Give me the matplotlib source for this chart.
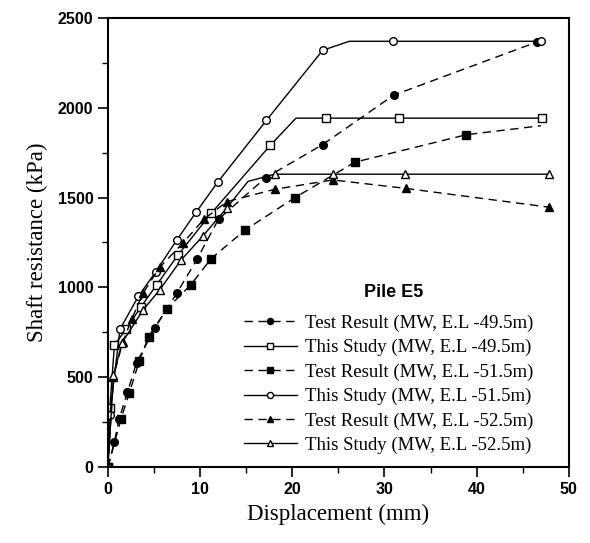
import matplotlib
matplotlib.use("Agg")
import matplotlib.pyplot as plt
from matplotlib.ticker import MultipleLocator

# Pile E5 - shaft resistance vs displacement
test_495_x = [0, 0.7, 1.2, 2.1, 3.1, 5.1, 7.5, 9.7, 12.0, 17.1, 23.3, 31.0, 46.5]
test_495_y = [0, 140, 265, 415, 580, 775, 970, 1160, 1380, 1610, 1795, 2070, 2365]

study_495_x = [0, 0.2, 0.7, 2.0, 3.6, 5.3, 7.6, 11.2, 17.6, 20.4, 23.7, 31.6, 47.1]
study_495_y = [0, 327, 679, 770, 893, 1015, 1180, 1412, 1790, 1942, 1942, 1942, 1942]

test_515_x = [0, 1.4, 2.3, 3.4, 4.4, 6.4, 9.0, 11.2, 14.9, 20.3, 26.8, 38.9, 47.0]
test_515_y = [0, 265, 410, 590, 726, 880, 1015, 1160, 1320, 1500, 1697, 1850, 1900]

study_515_x = [0, 0.2, 1.3, 3.3, 5.2, 7.5, 9.6, 11.9, 17.2, 23.3, 26.2, 30.9, 47.0]
study_515_y = [0, 290, 767, 950, 1088, 1266, 1421, 1585, 1930, 2320, 2370, 2370, 2370]

test_525_x = [0, 0.6, 1.6, 2.6, 3.8, 5.6, 8.1, 10.4, 12.9, 18.1, 24.4, 32.3, 47.9]
test_525_y = [0, 503, 695, 826, 967, 1111, 1245, 1379, 1477, 1546, 1598, 1551, 1446]

study_525_x = [0, 0.6, 1.5, 3.8, 5.6, 7.9, 10.3, 12.9, 15.2, 18.1, 24.4, 32.2, 47.9]
study_525_y = [0, 510, 689, 874, 985, 1150, 1286, 1443, 1590, 1630, 1630, 1630, 1630]

labels = [
    "Test Result (MW, E.L -49.5m)",
    "This Study (MW, E.L -49.5m)",
    "Test Result (MW, E.L -51.5m)",
    "This Study (MW, E.L -51.5m)",
    "Test Result (MW, E.L -52.5m)",
    "This Study (MW, E.L -52.5m)",
]

# (x, y, marker, filled, dashed, marked indices)
series = [
    (test_495_x, test_495_y, "o", True, True, None),
    (study_495_x, study_495_y, "s", False, False, [i for i in range(13) if i != 9]),
    (test_515_x, test_515_y, "s", True, True, list(range(12))),
    (study_515_x, study_515_y, "o", False, False, [i for i in range(13) if i != 10]),
    (test_525_x, test_525_y, "^", True, True, None),
    (study_525_x, study_525_y, "^", False, False, [i for i in range(13) if i != 8]),
]

serif = "Liberation Serif"
sans = "Liberation Sans"

fig = plt.figure(figsize=(5.9, 5.43), dpi=100)
ax = fig.add_axes([0.183, 0.140, 0.781, 0.827])

handles = []
for (x, y, mk, filled, dashed, every), lab in zip(series, labels):
    ls = (0, (6, 4)) if dashed else "-"
    ln, = ax.plot(x, y, color="black", lw=1.0, linestyle=ls, marker=mk,
                  markersize=5.5, markeredgewidth=1.0,
                  markerfacecolor="black" if filled else "white",
                  markeredgecolor="black", markevery=every, label=lab)
    handles.append(ln)

ax.set_xlim(0, 50)
ax.set_ylim(0, 2500)
ax.xaxis.set_major_locator(MultipleLocator(10))
ax.xaxis.set_minor_locator(MultipleLocator(5))
ax.yaxis.set_major_locator(MultipleLocator(500))
ax.yaxis.set_minor_locator(MultipleLocator(250))
ax.tick_params(which="major", direction="out", length=7, width=1.2)
ax.tick_params(which="minor", direction="out", length=4, width=1.0)
for s in ax.spines.values():
    s.set_linewidth(1.5)

for t in ax.get_xticklabels() + ax.get_yticklabels():
    t.set_fontfamily(sans)
    t.set_fontweight("bold")
    t.set_fontsize(11.5)

ax.set_xlabel("Displacement (mm)", fontfamily=serif, fontsize=16.5, labelpad=5)
ax.set_ylabel("Shaft resistance (kPa)", fontfamily=serif, fontsize=16.5, labelpad=7)

leg = ax.legend(handles=handles, loc="lower left", bbox_to_anchor=(0.275, 0.008),
                frameon=False, prop={"family": serif, "size": 13.5},
                handlelength=2.8, handletextpad=0.45, labelspacing=0.38,
                borderpad=0, markerscale=0.8)

ax.text(0.62, 0.388, "Pile E5", transform=ax.transAxes, fontfamily=sans,
        fontweight="bold", fontsize=13, ha="center", va="center")

fig.savefig("out.png", dpi=100)
